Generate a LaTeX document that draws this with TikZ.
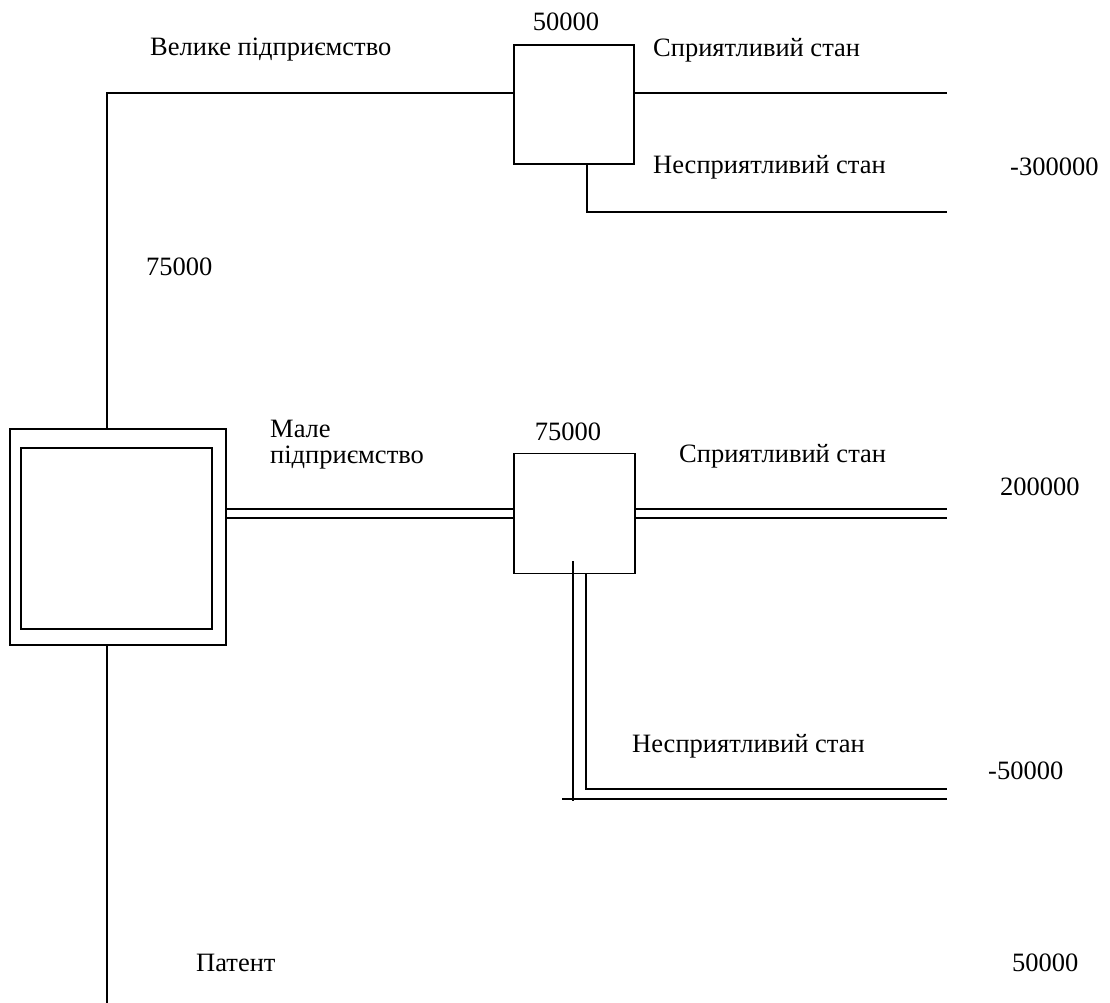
\documentclass[tikz,border=0pt]{standalone}
\usepackage{fontspec}
\setmainfont{Liberation Serif}
\begin{document}
\begin{tikzpicture}[x=1pt,y=-1pt,
  ln/.style={line width=1.8pt},
  box/.style={draw,line width=1.8pt,inner sep=0pt},
  dbl/.style={line width=1.8pt,double,double distance=7.2pt},
  lbl/.style={inner sep=0pt,font=\fontsize{26.5}{26}\selectfont}]
\useasboundingbox (0,0) rectangle (1110,1003);
% nodes
\node[box,minimum width=216pt,minimum height=216pt] (root) at (118,537) {};
\node[box,minimum width=191pt,minimum height=181pt] (rootin) at (116.5,538.5) {};
\node[box,minimum width=120pt,minimum height=119pt] (b1) at (574,104.5) {};
\node[box,minimum width=121pt,minimum height=120pt] (b2) at (574.5,513.5) {};
% free ends
\coordinate (e1) at (947,93);
\coordinate (e2) at (947,212);
\coordinate (e3) at (947,513.5);
\coordinate (e4a) at (947,789);
\coordinate (e4b) at (947,799);
\coordinate (d1) at (573,801);
\coordinate (d2) at (562,799);
\coordinate (e5) at (107,1003);
% connectors
\draw[ln] ([xshift=-11pt]root.north) |- ([yshift=11.5pt]b1.west);
\draw[ln] ([yshift=11.5pt]b1.east) -- (e1);
\draw[ln] ([xshift=13pt]b1.south) |- (e2);
\draw[dbl] (root.east |- b2.west) -- (b2.west);
\draw[dbl] (b2.east) -- (e3);
\draw[ln] ([xshift=11.5pt]b2.south) |- (e4a);
\draw[ln] ([xshift=-1.5pt,yshift=13pt]b2.south) -- (d1);
\draw[ln] (d2) -- (e4b);
\draw[ln] ([xshift=-11pt]root.south) -- (e5);
% labels
\node[lbl] (t1) at (566,22) {50000};
\node[lbl,anchor=west] (t2) at (653,50) {Сприятливий стан};
\node[lbl,anchor=west] (t3) at (653,167) {Несприятливий стан};
\node[lbl,anchor=west] (t4) at (1010,167) {-300000};
\node[lbl,anchor=west] (t5) at (150,50) {Велике підприємство};
\node[lbl,anchor=west] (t6) at (146,267) {75000};
\node[lbl,anchor=west,align=left] (t7) at (270,445) {Мале\\підприємство};
\node[lbl] (t8) at (568,432) {75000};
\node[lbl,anchor=west] (t9) at (679,456) {Сприятливий стан};
\node[lbl,anchor=west] (t10) at (1000,487) {200000};
\node[lbl,anchor=west] (t11) at (632,746) {Несприятливий стан};
\node[lbl,anchor=west] (t12) at (988,771) {-50000};
\node[lbl,anchor=west] (t13) at (196,963) {Патент};
\node[lbl,anchor=west] (t14) at (1012,963) {50000};
\end{tikzpicture}
\end{document}
